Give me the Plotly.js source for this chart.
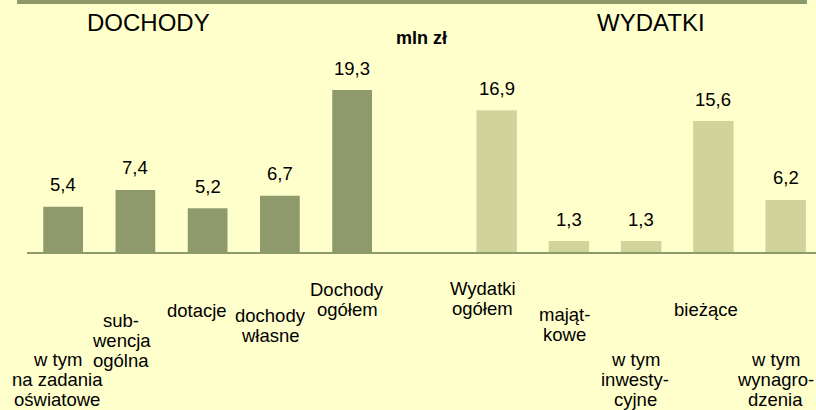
<!DOCTYPE html>
<html><head><meta charset="utf-8">
<script src="https://cdn.plot.ly/plotly-3.0.1.min.js"></script>
<style>html,body{margin:0;padding:0;background:#ffffcc;}</style>
</head><body><div id="chart" style="width:816px;height:410px;"></div>
<script>
// Data
const incomeCategories = ["w tym<br>na zadania<br>oświatowe", "sub-<br>wencja<br>ogólna", "dotacje", "dochody<br>własne", "Dochody<br>ogółem"];
const incomeValues = [5.4, 7.4, 5.2, 6.7, 19.3];
const expenseCategories = ["Wydatki<br>ogółem", "mająt-<br>kowe", "w tym<br>inwesty-<br>cyjne", "bieżące", "w tym<br>wynagro-<br>dzenia"];
const expenseValues = [16.9, 1.3, 1.3, 15.6, 6.2];
const valueLabels = ["5,4","7,4","5,2","6,7","19,3","16,9","1,3","1,3","15,6","6,2"];
const groupTitles = ["DOCHODY", "WYDATKI"];
const unitLabel = "mln zł";

// Layout helpers (positions only)
const incomeSlots = [0,1,2,3,4];
const expenseSlots = [6,7,8,9,10];
const labelXShift = [-6,-14,-11,-9,-5,-14,-4,-6,-7,-10];
const labelFirstLineY = [359,320,310,315,289,288,314,359,309,359];
const lineStep = 20.4;
const baselinePx = 252;

const FONT = "Liberation Sans, Arial, sans-serif";
const dark = "#8e9a6c", light = "#d0d49a";

const traces = [
  {type:"bar", x:incomeSlots, y:incomeValues, marker:{color:dark}, width:0.55, hoverinfo:"none"},
  {type:"bar", x:expenseSlots, y:expenseValues, marker:{color:light}, width:0.56, hoverinfo:"none"}
];

const allSlots = incomeSlots.concat(expenseSlots);
const allValues = incomeValues.concat(expenseValues);
const allCats = incomeCategories.concat(expenseCategories);

const annotations = [];
allSlots.forEach((s,i)=>{
  annotations.push({x:s, y:allValues[i], xref:"x", yref:"y", text:valueLabels[i], showarrow:false,
    yanchor:"middle", yshift:22, font:{family:FONT, size:18.5, color:"#000"}});
  allCats[i].split("<br>").forEach((line,k)=>{
    annotations.push({x:s, y:0, xref:"x", yref:"paper", text:line, showarrow:false,
      yanchor:"middle", xshift:labelXShift[i], yshift:-(labelFirstLineY[i]+k*lineStep-baselinePx),
      font:{family:FONT, size:18.5, color:"#000"}});
  });
});
annotations.push({x:1, y:1, xref:"x", yref:"paper", yanchor:"middle", yshift:-22, xshift:13, text:groupTitles[0], showarrow:false, font:{family:FONT,size:24,color:"#000"}});
annotations.push({x:8, y:1, xref:"x", yref:"paper", yanchor:"middle", yshift:-22, xshift:10, text:groupTitles[1], showarrow:false, font:{family:FONT,size:24,color:"#000"}});
annotations.push({x:5, y:1, xref:"x", yref:"paper", yanchor:"middle", yshift:-38, xshift:-3, text:"<b>"+unitLabel+"</b>", showarrow:false, font:{family:FONT,size:18,color:"#000"}});

const layout = {
  width:816, height:410,
  margin:{l:27, r:0, t:0, b:158, pad:0},
  paper_bgcolor:"#ffffcc", plot_bgcolor:"#ffffcc",
  showlegend:false,
  xaxis:{range:[-0.5,10.42], showgrid:false, zeroline:false, showticklabels:false, ticks:"",
         showline:true, linecolor:dark, linewidth:2, fixedrange:true},
  yaxis:{range:[0,30.03], visible:false, fixedrange:true},
  annotations:annotations,
  shapes:[{type:"rect", xref:"paper", yref:"paper", x0:(17-27)/789, x1:(807-27)/789, y0:1-4/252, y1:1.01,
           fillcolor:dark, line:{width:0}, layer:"above"}]
};
Plotly.newPlot("chart", traces, layout, {displayModeBar:false, staticPlot:true});
</script></body></html>
